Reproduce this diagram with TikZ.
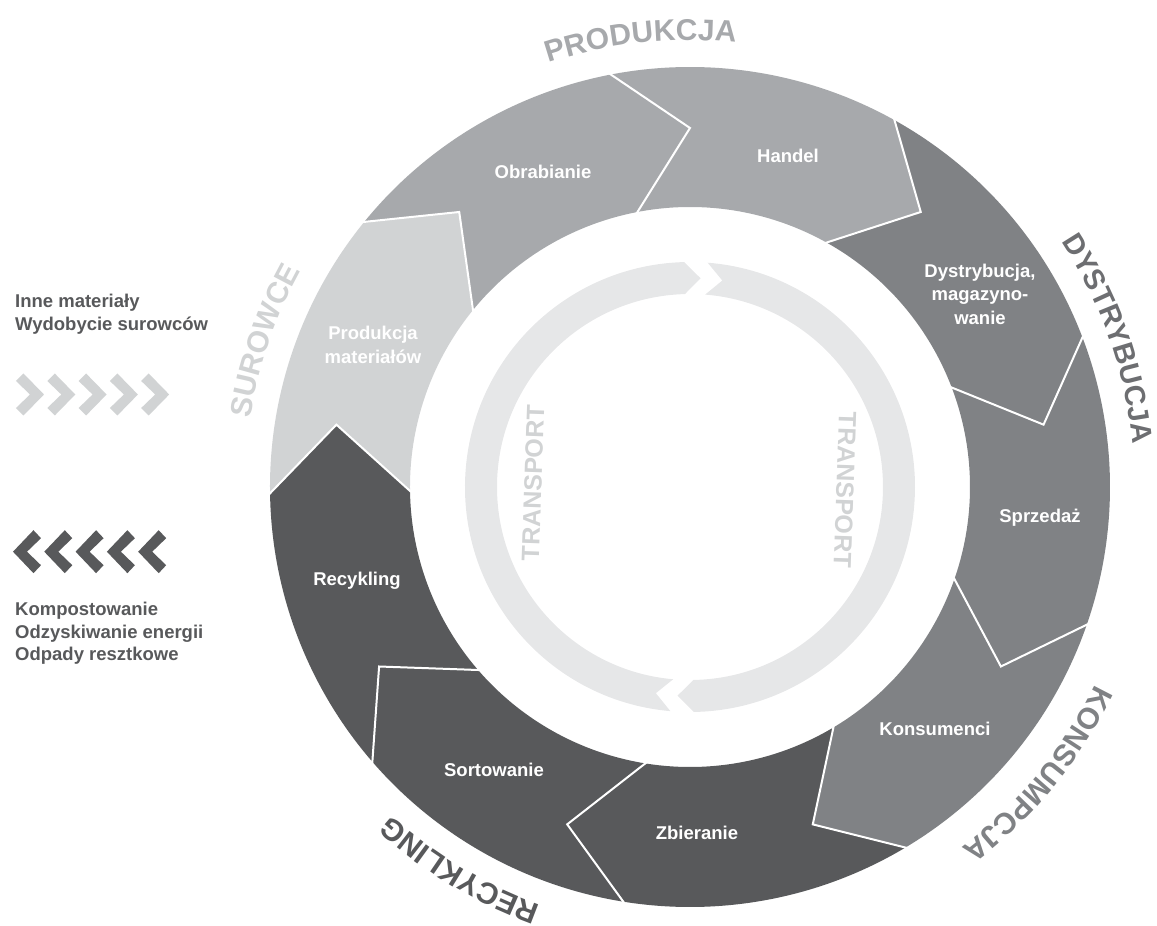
\documentclass[tikz,border=0pt]{standalone}
\usepackage{fontspec}
\setmainfont{Liberation Sans}
\usetikzlibrary{decorations.text}
\definecolor{cA}{HTML}{D1D3D4}
\definecolor{cB}{HTML}{A7A9AC}
\definecolor{cC}{HTML}{808285}
\definecolor{cE}{HTML}{6D6E71}
\definecolor{cD}{HTML}{58595B}
\definecolor{cT}{HTML}{E6E7E8}
\begin{document}
\begin{tikzpicture}[x=1pt,y=1pt,
  seglbl/.style={text=white, font=\fontsize{18.5}{23.5}\selectfont\bfseries, align=center, inner sep=0pt},
  sidelbl/.style={text=cD, font=\fontsize{18.5}{22.5}\selectfont\bfseries, align=left, inner sep=0pt, anchor=west},
  translbl/.style={text=cA, font=\fontsize{25}{30}\selectfont\bfseries, inner sep=0pt},
  sep/.style={draw=white, line width=2pt, line join=miter}]
\useasboundingbox (-690,-439) rectangle (467,487);
% ring segments
\foreach \a/\c in {181/cA,141/cB,101/cB,61/cC,21/cC,-19/cC,-59/cD,-99/cD,-139/cD}{
  \pgfmathsetmacro\b{\a-40}
  \fill[\c] (\a:420pt) arc[start angle=\a, end angle=\b, radius=420pt]
    -- ({\b-11}:359pt) -- (\b:280pt)
    arc[start angle=\b, end angle=\a, radius=280pt]
    -- ({\a-11}:359pt) -- cycle;
}
\foreach \a in {141,101,61,21,-19,-59,-99,-139,-179}{
  \draw[sep] (\a:421pt) -- ({\a-11}:359pt) -- (\a:279pt);
}
% transport ring
\fill[cT] (-95:225pt) arc[start angle=-95, end angle=-268.5, radius=225pt]
  -- (-272.9:209pt) -- (-268.5:193pt)
  arc[start angle=-268.5, end angle=-95, radius=193pt]
  -- (-99.4:209pt) -- cycle;
\fill[cT] (85.5:225pt) arc[start angle=85.5, end angle=-89, radius=225pt]
  -- (-93.4:209pt) -- (-89:193pt)
  arc[start angle=-89, end angle=85.5, radius=193pt]
  -- (81.1:209pt) -- cycle;
\node[translbl, rotate=88] (trL) at (-157,4) {TRANSPORT};
\node[translbl, rotate=-92] (trR) at (155,-3) {TRANSPORT};
% segment labels
\node[seglbl] (pm) at (-317,142) {Produkcja\\materiałów};
\node[seglbl] (obr) at (-147,315) {Obrabianie};
\node[seglbl] (han) at (98,331) {Handel};
\node[seglbl] (dys) at (290,193) {Dystrybucja,\\magazyno-\\wanie};
\node[seglbl] (spr) at (350,-31) {Sprzedaż};
\node[seglbl] (kon) at (245,-242) {Konsumenci};
\node[seglbl] (zbi) at (7,-346) {Zbieranie};
\node[seglbl] (sor) at (-196,-283) {Sortowanie};
\node[seglbl] (rec) at (-333,-94) {Recykling};
% outer category labels
\path[decorate, decoration={text along path, text align=center,
  text={|\fontsize{30}{36}\selectfont\bfseries\color{cB}|PRODUKCJA}}]
  (126.3:447pt) arc[start angle=126.3, end angle=66.3, radius=447pt];
\path[decorate, decoration={text along path, text align=center,
  text={|\fontsize{29}{35}\selectfont\bfseries\color{cE}|DYSTRYBUCJA}}]
  (49.5:445pt) arc[start angle=49.5, end angle=-10.5, radius=445pt];
\path[decorate, decoration={text along path, text align=center,
  text={|\fontsize{30}{36}\selectfont\bfseries\color{cC}|KONSUMPCJA}}]
  (-9.5:451pt) arc[start angle=-9.5, end angle=-69.5, radius=451pt];
\path[decorate, decoration={text along path, text align=center,
  text={|\fontsize{30}{36}\selectfont\bfseries\color{cD}|RECYKLING}}]
  (-91:444pt) arc[start angle=-91, end angle=-151, radius=444pt];
\path[decorate, decoration={text along path, text align=center,
  text={|\fontsize{30}{36}\selectfont\bfseries\color{cA}|SUROWCE}}]
  (191:445pt) arc[start angle=191, end angle=131, radius=445pt];
% side texts
\node[sidelbl] (inne) at (-675,173) {Inne materiały\\Wydobycie surowców};
\node[sidelbl] (komp) at (-675,-146.5) {Kompostowanie\\Odzyskiwanie energii\\Odpady resztkowe};
% chevrons
\foreach \i in {0,...,4}{
  \fill[cA, shift={({-674+31.3*\i},92.5)}] (0,-13.5) -- (7.5,-21) -- (28,0) -- (7.5,21) -- (0,13.5) -- (14,0) -- cycle;
  \fill[cD, shift={({-677+31.3*\i},-64.7)}] (28,-13.5) -- (20.5,-21.5) -- (0,0) -- (20.5,21.5) -- (28,13.5) -- (14,0) -- cycle;
}
\end{tikzpicture}
\end{document}
